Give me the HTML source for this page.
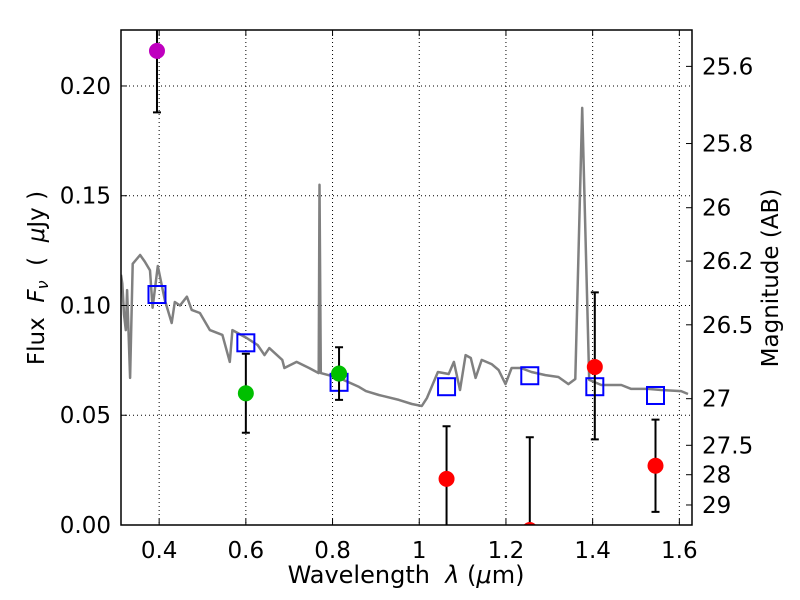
<!DOCTYPE html>
<html><head><meta charset="utf-8"><style>
body{margin:0;background:#fff}
svg{display:block;font-family:"DejaVu Sans","Liberation Sans",sans-serif}
text{white-space:pre}
</style></head><body>
<svg id="chart" width="800" height="600" viewBox="0 0 800 600" xmlns="http://www.w3.org/2000/svg" xml:space="preserve">
<defs><clipPath id="clip"><rect x="121" y="30" width="571" height="495"/></clipPath></defs>
<rect width="800" height="600" fill="#fff"/>
<g id="grid"></g>
<g id="spectrum" clip-path="url(#clip)"></g>
<g id="points" clip-path="url(#clip)"></g>
<rect x="0" y="525" width="800" height="75" fill="#fff"/>
<rect x="0" y="0" width="800" height="30" fill="#fff"/>
<g id="axes"></g>
<text x="406" y="583" font-size="24" text-anchor="middle">Wavelength  <tspan font-style="italic">λ</tspan> (<tspan font-style="italic">μ</tspan>m)</text>
<text transform="translate(44,278) rotate(-90)" font-size="23" text-anchor="middle">Flux  <tspan font-style="italic">F</tspan><tspan font-style="italic" font-size="16" dy="4">ν</tspan><tspan dy="-4">  (  </tspan><tspan font-style="italic">μ</tspan>Jy )</text>
<text transform="translate(778,278) rotate(-90)" font-size="23" text-anchor="middle">Magnitude (AB)</text>
</svg>
<script>
const specWl=[0.312,0.315,0.319,0.323,0.326,0.333,0.339,0.356,0.367,0.379,0.385,0.397,0.413,0.429,0.436,0.448,0.464,0.475,0.494,0.517,0.546,0.563,0.569,0.602,0.627,0.643,0.654,0.684,0.689,0.717,0.746,0.768,0.770,0.773,0.815,0.861,0.877,0.907,0.953,0.983,1.006,1.018,1.043,1.068,1.080,1.094,1.107,1.119,1.130,1.144,1.167,1.183,1.199,1.213,1.234,1.259,1.291,1.321,1.344,1.360,1.376,1.392,1.420,1.466,1.489,1.528,1.558,1.604,1.620];
const specFlux=[0.114,0.110,0.096,0.0888,0.107,0.067,0.119,0.123,0.120,0.116,0.099,0.118,0.1025,0.092,0.1016,0.100,0.104,0.098,0.0966,0.0888,0.0866,0.0743,0.0888,0.0852,0.082,0.0774,0.0806,0.0752,0.0715,0.0743,0.0715,0.0692,0.155,0.0692,0.067,0.0629,0.061,0.0592,0.057,0.0551,0.0542,0.0579,0.0697,0.0688,0.0743,0.0615,0.0774,0.0761,0.067,0.0752,0.0733,0.0706,0.0642,0.0715,0.0715,0.0697,0.0683,0.0674,0.0642,0.0665,0.190,0.0661,0.0638,0.0638,0.062,0.062,0.0615,0.061,0.0597];
const obsWl=[0.395,0.600,0.815,1.063,1.255,1.405,1.545];
const obsFlux=[0.216,0.060,0.069,0.021,-0.0023,0.072,0.027];
const obsErrLo=[0.188,0.042,0.057,-0.01,-0.01,0.039,0.006];
const obsErrHi=[0.240,0.078,0.081,0.045,0.040,0.106,0.048];
const obsColor=["#bf00bf","#00bf00","#00bf00","#ff0000","#ff0000","#ff0000","#ff0000"];
const modelWl=[0.395,0.600,0.815,1.063,1.255,1.405,1.545];
const modelFlux=[0.105,0.083,0.065,0.063,0.068,0.063,0.059];
const xTicks=[0.4,0.6,0.8,1.0,1.2,1.4,1.6];
const xTickLabels=["0.4","0.6","0.8","1","1.2","1.4","1.6"];
const yTicks=[0,0.05,0.10,0.15,0.20];
const yTickLabels=["0.00","0.05","0.10","0.15","0.20"];
const magTicks=[25.6,25.8,26,26.2,26.5,27,27.5,28,29];
const magTickLabels=["25.6","25.8","26","26.2","26.5","27","27.5","28","29"];

const L=121,R=692,T=30,B=525;
const xMin=0.312,xMax=1.6+(692-679.3)/435,yMin=0,yMax=0.2255;
const sx=v=>L+(v-xMin)/(xMax-xMin)*(R-L);
const sy=v=>B-(v-yMin)/(yMax-yMin)*(B-T);
const NS="http://www.w3.org/2000/svg";
function mk(tag,attrs,parent){const e=document.createElementNS(NS,tag);for(const k in attrs)e.setAttribute(k,attrs[k]);parent.appendChild(e);return e;}
const grid=document.getElementById('grid'),spec=document.getElementById('spectrum'),pts=document.getElementById('points'),axes=document.getElementById('axes');

xTicks.forEach((t,i)=>{
  const x=sx(t);
  const g=mk('line',{x1:x,x2:x,y1:T,y2:B,stroke:'#000','stroke-width':1,'stroke-dasharray':'1,3'},grid);
  
  
  [[B,B-6],[T,T+6]].forEach(([a,b])=>{const tk=mk('line',{x1:x,x2:x,y1:a,y2:b,stroke:'#000','stroke-width':1},axes);
    
    });
  const lb=mk('text',{x:x,y:558,'font-size':23,'text-anchor':'middle'},axes);
  
  
  lb.textContent=xTickLabels[i];
});
yTicks.forEach((t,i)=>{
  const y=sy(t);
  const g=mk('line',{x1:L,x2:R,y1:y,y2:y,stroke:'#000','stroke-width':1,'stroke-dasharray':'1,3'},grid);
  
  
  const tk=mk('line',{x1:L,x2:L+6,y1:y,y2:y,stroke:'#000','stroke-width':1},axes);
  
  
  const lb=mk('text',{x:111,y:y+8,'font-size':23,'text-anchor':'end'},axes);
  
  
  lb.textContent=yTickLabels[i];
});
magTicks.forEach((m,i)=>{
  const f=Math.pow(10,(23.9-m)/2.5);
  const y=sy(f);
  const tk=mk('line',{x1:R,x2:R-6,y1:y,y2:y,stroke:'#000','stroke-width':1},axes);
  
  
  const lb=mk('text',{x:702,y:y+8,'font-size':23,'text-anchor':'start'},axes);
  
  
  lb.textContent=magTickLabels[i];
});
const frame=mk('rect',{x:L,y:T,width:R-L,height:B-T,fill:'none',stroke:'#000','stroke-width':1.5},axes);



const d=specWl.map((w,i)=>(i?'L':'M')+sx(w).toFixed(1)+','+sy(specFlux[i]).toFixed(1)).join(' ');
const line=mk('path',{d:d,fill:'none',stroke:'#808080','stroke-width':2.5,'stroke-linejoin':'round'},spec);



modelWl.forEach((w,i)=>{
  const sq=mk('rect',{x:sx(w)-8.5,y:sy(modelFlux[i])-8.5,width:17,height:17,fill:'none',stroke:'#0000ff','stroke-width':2},pts);
  
  
});
obsWl.forEach((w,i)=>{
  const x=sx(w),y1=sy(obsErrLo[i]),y2=sy(obsErrHi[i]);
  const eb=mk('path',{d:`M${x},${y1} L${x},${y2} M${x-4},${y1} L${x+4},${y1} M${x-4},${y2} L${x+4},${y2}`,stroke:'#000','stroke-width':2,fill:'none'},pts);
  
  
  const c=mk('circle',{cx:x,cy:sy(obsFlux[i]),r:8,fill:obsColor[i]},pts);
  
  
});
</script>
</body></html>
